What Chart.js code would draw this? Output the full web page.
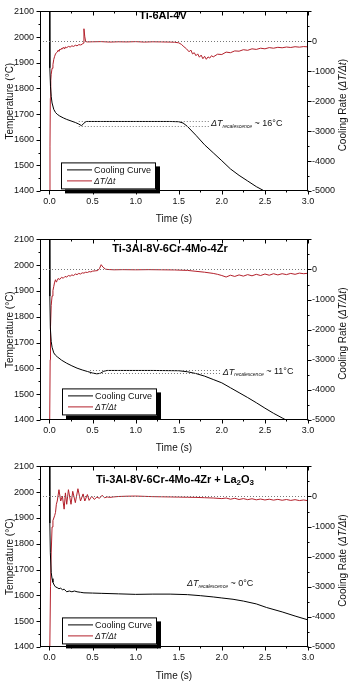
<!DOCTYPE html>
<html><head><meta charset="utf-8">
<script src="https://cdn.jsdelivr.net/npm/chart.js@4"></script>
<style>
html,body{margin:0;padding:0;background:#fff;}
#wrap{position:relative;width:350px;height:682px;overflow:hidden;background:#fff;}
canvas{position:absolute;left:0;}
</style></head><body>
<div id="wrap">
<canvas id="c1" width="350" height="227" style="top:0px"></canvas>
<canvas id="c2" width="350" height="227" style="top:228px"></canvas>
<canvas id="c3" width="350" height="227" style="top:455px"></canvas>
</div>
<script>
// ---------------- DATA ----------------
const xTicks = [0, 0.5, 1.0, 1.5, 2.0, 2.5, 3.0];
const tempTicks = [1400, 1500, 1600, 1700, 1800, 1900, 2000, 2100];
const rateTicks = [-5000, -4000, -3000, -2000, -1000, 0];

// Panel 1: Ti-6Al-4V
const c1t = [0, 0.004, 0.012, 0.02, 0.03, 0.05, 0.07, 0.09, 0.12, 0.16,
             0.2, 0.25, 0.3, 0.34, 0.37, 0.39, 0.41, 0.43, 0.6, 1.0,
             1.4, 1.5, 1.55, 1.6, 1.7, 1.8, 1.9, 2.0, 2.1, 2.2,
             2.3, 2.4, 2.5, 2.56];
const c1T = [2300, 1880, 1806, 1768, 1743, 1718, 1706, 1699, 1692, 1685,
             1679, 1673, 1667, 1661, 1655, 1660, 1668, 1671, 1671, 1671,
             1671, 1670, 1665, 1652, 1617, 1580, 1549, 1518, 1486, 1461,
             1439, 1417, 1399, 1390];
const r1t = [0, 0.006, 0.01, 0.015, 0.02, 0.03, 0.04, 0.05, 0.06, 0.07,
             0.08, 0.09, 0.1, 0.11, 0.12, 0.13, 0.14, 0.15, 0.16, 0.17,
             0.18, 0.2, 0.22, 0.24, 0.26, 0.28, 0.3, 0.32, 0.34, 0.36,
             0.38, 0.39, 0.4, 0.41, 0.42, 0.44, 0.5, 0.6, 0.7, 0.8,
             0.9, 1.0, 1.1, 1.2, 1.3, 1.4, 1.45, 1.5, 1.53, 1.56,
             1.59, 1.62, 1.64, 1.66, 1.68, 1.7, 1.72, 1.74, 1.76, 1.78,
             1.8, 1.82, 1.84, 1.86, 1.88, 1.9, 1.95, 2.0, 2.05, 2.1,
             2.15, 2.2, 2.25, 2.3, 2.35, 2.4, 2.45, 2.5, 2.55, 2.6,
             2.65, 2.7, 2.75, 2.8, 2.85, 2.9, 2.95, 3.0];
const r1 = [-6000, -3500, -1900, -1300, -1100, -900, -780, -600, -500, -420,
            -380, -360, -300, -330, -260, -290, -230, -260, -200, -240,
            -190, -210, -170, -190, -150, -170, -130, -150, -110, -120,
            -100, -60, 420, 150, -10, -20, -15, -10, -25, -15,
            -20, -10, -25, -15, -20, -25, -30, -50, -100, -180,
            -250, -350, -290, -420, -380, -480, -420, -530, -460, -580,
            -500, -600, -520, -560, -480, -520, -430, -440, -360, -380,
            -320, -330, -280, -300, -250, -270, -230, -250, -210, -230,
            -200, -215, -190, -205, -180, -195, -175, -185];

// Panel 2: Ti-3Al-8V-6Cr-4Mo-4Zr
const c2t = [0, 0.004, 0.01, 0.02, 0.03, 0.05, 0.07, 0.09, 0.14, 0.2,
             0.26, 0.32, 0.38, 0.44, 0.5, 0.55, 0.59, 0.63, 0.67, 0.8,
             1.2, 1.5, 1.6, 1.7, 1.8, 1.9, 2.0, 2.1, 2.2, 2.3,
             2.4, 2.5, 2.6, 2.7, 2.8];
const c2T = [2300, 1880, 1757, 1705, 1682, 1660, 1651, 1645, 1632, 1620,
             1610, 1601, 1594, 1588, 1582, 1579, 1581, 1589, 1592, 1592,
             1592, 1591, 1587, 1580, 1570, 1557, 1544, 1525, 1506, 1487,
             1467, 1446, 1426, 1408, 1390];
const r2t = [0, 0.008, 0.012, 0.02, 0.03, 0.04, 0.05, 0.06, 0.07, 0.08,
             0.09, 0.1, 0.12, 0.14, 0.16, 0.18, 0.2, 0.22, 0.24, 0.26,
             0.28, 0.3, 0.32, 0.34, 0.36, 0.38, 0.4, 0.42, 0.44, 0.46,
             0.48, 0.5, 0.53, 0.56, 0.58, 0.6, 0.62, 0.65, 0.68, 0.75,
             0.85, 1.0, 1.15, 1.3, 1.45, 1.6, 1.7, 1.8, 1.9, 1.95,
             2.0, 2.05, 2.1, 2.15, 2.2, 2.25, 2.3, 2.35, 2.4, 2.45,
             2.5, 2.55, 2.6, 2.65, 2.7, 2.75, 2.8, 2.85, 2.9, 2.95, 3.0];
const r2 = [-6000, -3000, -1900, -1200, -880, -700, -560, -420, -340, -420,
            -360, -300, -330, -260, -290, -230, -250, -200, -220, -180,
            -200, -150, -170, -130, -150, -110, -120, -90, -100, -70,
            -80, -55, -45, -35, 30, 160, 80, 10, 0, -10,
            -5, -10, -5, -10, -15, -30, -60, -90, -130, -160,
            -200, -250, -190, -230, -180, -220, -170, -210, -160, -200,
            -150, -190, -140, -180, -140, -170, -130, -160, -120, -140, -125];

// Panel 3: Ti-3Al-8V-6Cr-4Mo-4Zr + La2O3
const c3t = [0, 0.004, 0.01, 0.02, 0.03, 0.04, 0.055, 0.07, 0.09, 0.11,
             0.13, 0.15, 0.17, 0.2, 0.23, 0.26, 0.29, 0.32, 0.36, 0.4,
             0.5, 0.6, 0.8, 1.0, 1.2, 1.4, 1.6, 1.75, 1.9, 2.0,
             2.13, 2.25, 2.4, 2.52, 2.7, 2.85, 3.0];
const c3T = [2300, 1880, 1765, 1689, 1665, 1651, 1640, 1633, 1630, 1626,
             1628, 1622, 1624, 1614, 1617, 1614, 1617, 1614, 1612, 1610,
             1609, 1608, 1606, 1604, 1605, 1605, 1603, 1599, 1594, 1590,
             1585, 1578, 1567, 1553, 1536, 1520, 1505];
const r3t = [0, 0.012, 0.02, 0.03, 0.04, 0.06, 0.07, 0.08, 0.09, 0.11,
             0.13, 0.15, 0.17, 0.185, 0.2, 0.22, 0.25, 0.27, 0.3, 0.33,
             0.36, 0.39, 0.41, 0.44, 0.46, 0.49, 0.52, 0.55, 0.58, 0.61,
             0.64, 0.67, 0.7, 0.74, 0.8, 0.9, 1.0, 1.1, 1.2, 1.3,
             1.4, 1.5, 1.6, 1.7, 1.8, 1.9, 2.0, 2.05, 2.1, 2.15,
             2.2, 2.25, 2.3, 2.35, 2.4, 2.45, 2.5, 2.55, 2.6, 2.65,
             2.7, 2.75, 2.8, 2.85, 2.9, 2.95, 3.0];
const r3 = [-6000, -3000, -1875, -1013, -800, -636, -528, -259, -150, 226,
            -150, 10, -420, 120, -259, 226, -259, 172, -205, 258,
            -150, 86, -150, 65, -129, 10, -97, -20, -60, 40,
            -40, -15, -30, -15, 0, 10, 15, 5, -5, -10,
            -15, -20, -25, -30, -40, -50, -70, -50, -90, -60,
            -100, -70, -105, -75, -110, -85, -115, -90, -120, -95,
            -125, -100, -130, -105, -135, -115, -140];

// Recalescence annotations (data values)
const recal1 = {hi: 1671, lo: 1655, from: 0.34, to: 1.87, tx: 1.875, ty: 1662, label: '16°C'};
const recal2 = {hi: 1592, lo: 1581, from: 0.47, to: 2.0, tx: 2.01, ty: 1586, label: '11°C'};
const recal3 = {hi: null, lo: null, from: 0, to: 0, tx: 1.595, ty: 1646, label: '0°C'};

// ---------------- RENDER ----------------
const FONT = '"Liberation Sans", Arial, sans-serif';
const RED = '#b3202b';

function pts(ts, vs) { return ts.map((t, i) => ({x: t, y: vs[i]})); }

function drawSegs(ctx, segs, x, y, align) {
  let total = 0;
  segs.forEach(s => { ctx.font = s.font; s.w = ctx.measureText(s.t).width; total += s.w; });
  let cx = align === 'center' ? x - total / 2 : x;
  segs.forEach(s => {
    ctx.font = s.font;
    ctx.fillText(s.t, cx, y + (s.dy || 0));
    cx += s.w;
  });
  return total;
}

const decoPlugin = {
  id: 'deco',
  afterDatasetsDraw(chart, args, o) {
    const {ctx, chartArea: a, scales} = chart;
    const xs = scales.x, yl = scales.y, yr = scales.y2;
    ctx.save();
    ctx.beginPath();
    ctx.rect(a.left, a.top, a.right - a.left, a.bottom - a.top);
    ctx.clip();
    ctx.strokeStyle = '#777';
    ctx.lineWidth = 1;
    ctx.setLineDash([1, 2]);
    ctx.beginPath();
    const z = Math.round(yr.getPixelForValue(0)) + 0.5;
    ctx.moveTo(a.left, z); ctx.lineTo(a.right, z);
    const rc = o.recal;
    if (rc.hi !== null) {
      [rc.hi, rc.lo].forEach(v => {
        const py = Math.round(yl.getPixelForValue(v)) + 0.5;
        ctx.moveTo(xs.getPixelForValue(rc.from), py);
        ctx.lineTo(xs.getPixelForValue(rc.to), py);
      });
    }
    ctx.stroke();
    ctx.setLineDash([]);
    ctx.fillStyle = '#111';
    ctx.textBaseline = 'middle';
    ctx.textAlign = 'left';
    drawSegs(ctx, [
      {t: 'ΔT', font: 'italic 9px ' + FONT},
      {t: 'recalescence', font: 'italic 5px ' + FONT, dy: 3},
      {t: ' ~ ' + rc.label, font: '9px ' + FONT}
    ], xs.getPixelForValue(rc.tx), yl.getPixelForValue(rc.ty), 'left');
    ctx.restore();

    // legend
    ctx.save();
    const L = a.left + o.legend.dx, T = a.top + o.legend.dy, W = 95, H = 27;
    ctx.fillStyle = '#000';
    ctx.fillRect(L + 4, T + 4, W, H);
    ctx.fillStyle = '#fff';
    ctx.fillRect(L, T, W, H);
    ctx.strokeStyle = '#000';
    ctx.lineWidth = 1;
    ctx.strokeRect(L + 0.5, T + 0.5, W - 1, H - 1);
    ctx.beginPath();
    ctx.strokeStyle = '#000';
    ctx.moveTo(L + 6, T + 7.5); ctx.lineTo(L + 31, T + 7.5);
    ctx.stroke();
    ctx.beginPath();
    ctx.strokeStyle = RED;
    ctx.moveTo(L + 6, T + 18.5); ctx.lineTo(L + 31, T + 18.5);
    ctx.stroke();
    ctx.fillStyle = '#111';
    ctx.textBaseline = 'middle';
    ctx.textAlign = 'left';
    ctx.font = '9px ' + FONT;
    ctx.fillText('Cooling Curve', L + 33, T + 8);
    ctx.font = 'italic 8.5px ' + FONT;
    ctx.fillText('ΔT/Δt', L + 33, T + 19);
    ctx.restore();
  },
  afterDraw(chart, args, o) {
    const {ctx, chartArea: a, scales} = chart;
    const xs = scales.x, yl = scales.y, yr = scales.y2;
    ctx.save();
    ctx.strokeStyle = '#000';
    ctx.lineWidth = 1;
    const l = Math.round(a.left) + 0.5, r = Math.round(a.right) - 0.5;
    const t = Math.round(a.top) + 0.5, b = Math.round(a.bottom) - 0.5;
    ctx.strokeRect(l, t, r - l, b - t);
    ctx.beginPath();
    for (let i = 0; i <= 12; i++) {
      const p = Math.round(xs.getPixelForValue(i * 0.25)) + 0.5;
      const len = i % 2 === 0 ? 4 : 2;
      ctx.moveTo(p, b); ctx.lineTo(p, b + len);
      ctx.moveTo(p, t); ctx.lineTo(p, t + len);
    }
    for (let i = 0; i <= 14; i++) {
      const p = Math.round(yl.getPixelForValue(1400 + i * 50)) + 0.5;
      const len = i % 2 === 0 ? 4 : 2;
      ctx.moveTo(l, p); ctx.lineTo(l - len, p);
    }
    for (let i = 0; i <= 12; i++) {
      const p = Math.round(yr.getPixelForValue(-5000 + i * 500)) + 0.5;
      const len = i % 2 === 0 ? 4 : 2;
      ctx.moveTo(r, p); ctx.lineTo(r + len, p);
    }
    ctx.stroke();
    ctx.fillStyle = '#000';
    ctx.textBaseline = 'middle';
    drawSegs(ctx, o.title.map(s => ({t: s.t, font: 'bold ' + (s.sub ? 8 : 11) + 'px ' + FONT, dy: s.sub ? 3 : 0})),
      o.titleX, o.titleY, 'center');
    ctx.translate(343, (a.top + a.bottom) / 2 + 4);
    ctx.rotate(-Math.PI / 2);
    ctx.fillStyle = '#111';
    drawSegs(ctx, [
      {t: 'Cooling Rate (', font: '10px ' + FONT},
      {t: 'ΔT/Δt', font: 'italic 10px ' + FONT},
      {t: ')', font: '10px ' + FONT}
    ], 0, 0, 'center');
    ctx.restore();
  }
};

function makeChart(id, ct, cT, rt, rv, cfg) {
  return new Chart(document.getElementById(id), {
    type: 'line',
    data: {
      datasets: [
        {label: 'Cooling Curve', data: pts(ct, cT), yAxisID: 'y', borderColor: '#000', borderWidth: 1, pointRadius: 0, tension: 0},
        {label: 'ΔT/Δt', data: pts(rt, rv), yAxisID: 'y2', borderColor: RED, borderWidth: 1, pointRadius: 0, tension: 0}
      ]
    },
    options: {
      responsive: false,
      animation: false,
      devicePixelRatio: 1,
      layout: {padding: {top: cfg.padTop, left: 0, right: 0, bottom: 0}},
      plugins: {
        legend: {display: false},
        tooltip: {enabled: false},
        deco: {recal: cfg.recal, legend: cfg.legend, title: cfg.title, titleX: cfg.titleX, titleY: cfg.titleY}
      },
      scales: {
        x: {
          type: 'linear', position: 'bottom', min: -0.11, max: 3.0,
          afterBuildTicks: s => { s.ticks = xTicks.map(v => ({value: v})); },
          ticks: {autoSkip: false, maxRotation: 0, padding: 5,
                  color: '#111', font: {family: FONT, size: 9}, callback: v => Number(v).toFixed(1)},
          grid: {display: false, drawTicks: false},
          border: {display: false},
          title: {display: true, text: 'Time (s)', color: '#111', font: {family: FONT, size: 10}, padding: {top: 0, bottom: cfg.xTitlePad}},
          afterFit: s => { s.height = cfg.xHeight; }
        },
        y: {
          type: 'linear', position: 'left', min: 1400, max: 2100,
          afterBuildTicks: s => { s.ticks = tempTicks.map(v => ({value: v})); },
          ticks: {autoSkip: false, padding: 6, color: '#111', font: {family: FONT, size: 9}, callback: v => String(v)},
          grid: {display: false, drawTicks: false},
          border: {display: false},
          title: {display: true, text: 'Temperature (°C)', color: '#111', font: {family: FONT, size: 10}, padding: {top: 4, bottom: 0}},
          afterFit: s => { s.width = 40; }
        },
        y2: {
          type: 'linear', position: 'right', min: -5000, max: 1000,
          afterBuildTicks: s => { s.ticks = rateTicks.map(v => ({value: v})); },
          ticks: {autoSkip: false, padding: 4, color: '#111', font: {family: FONT, size: 9}, callback: v => String(v)},
          grid: {display: false, drawTicks: false},
          border: {display: false},
          afterFit: s => { s.width = 42; }
        }
      }
    },
    plugins: [decoPlugin]
  });
}

makeChart('c1', c1t, c1T, r1t, r1, {
  padTop: 5, xHeight: 36, xTitlePad: 2, recal: recal1,
  legend: {dx: 21, dy: 151},
  title: [{t: 'Ti-6Al-4V'}], titleX: 163, titleY: 16
});
makeChart('c2', c2t, c2T, r2t, r2, {
  padTop: 6, xHeight: 35, xTitlePad: 1, recal: recal2,
  legend: {dx: 22, dy: 149},
  title: [{t: 'Ti-3Al-8V-6Cr-4Mo-4Zr'}], titleX: 170, titleY: 21
});
makeChart('c3', c3t, c3T, r3t, r3, {
  padTop: 6, xHeight: 35, xTitlePad: 0, recal: recal3,
  legend: {dx: 22, dy: 151},
  title: [{t: 'Ti-3Al-8V-6Cr-4Mo-4Zr + La'}, {t: '2', sub: true}, {t: 'O'}, {t: '3', sub: true}],
  titleX: 175, titleY: 25
});
</script>
</body></html>
